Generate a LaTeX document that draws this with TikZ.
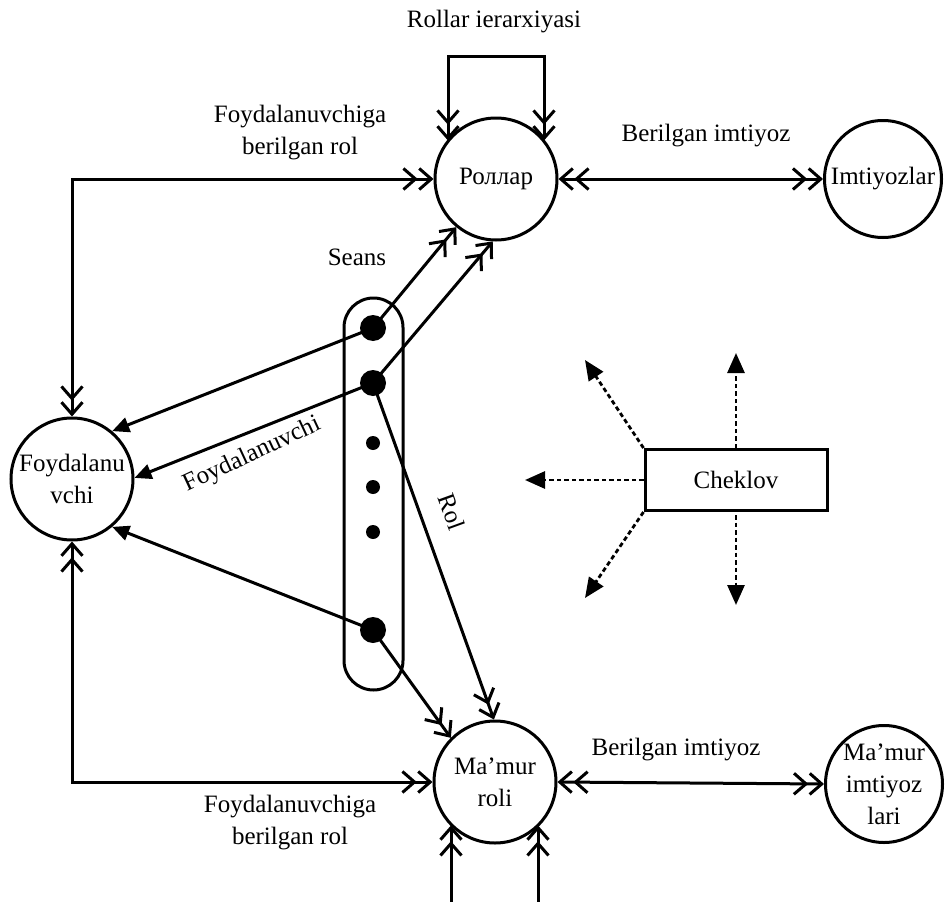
\documentclass[tikz,border=0pt]{standalone}
\usepackage{fontspec}
\setmainfont{Liberation Serif}
\usetikzlibrary{arrows.meta}
\tikzset{
  chev/.tip={Straight Barb[length=12pt,width=21pt]Straight Barb[length=12pt,width=21pt]},
  ftri/.tip={Triangle[length=17pt,width=15pt]},
  dtri/.tip={Triangle[length=20pt,width=17pt]},
}
\begin{document}
\begin{tikzpicture}[x=1pt,y=-1pt,
  every node/.style={font=\fontsize{25}{32}\selectfont},
  lw/.style={line width=3pt},
  bigc/.style={circle,draw,lw,minimum size=122pt,inner sep=0pt,align=center},
  smallc/.style={circle,draw,lw,minimum size=117pt,inner sep=0pt,align=center},
  dd/.style={lw,chev-chev},
  toin/.style={lw,-chev},
  fa/.style={lw,-ftri},
  da/.style={line width=2.8pt,dash pattern=on 4.5pt off 3pt,-dtri},
  bigdot/.style={circle,fill=black,minimum size=26pt,inner sep=0pt},
  smalldot/.style={circle,fill=black,minimum size=14pt,inner sep=0pt},
  lbl/.style={align=center,inner sep=0pt}
]
\useasboundingbox (0,0) rectangle (946,902);

% main nodes
\node[bigc] (R) at (496,179) {Роллар};
\node[smallc] (I) at (883,179) {Imtiyozlar};
\node[bigc] (F) at (72,479) {Foydalanu\\vchi};
\node[bigc] (M) at (495,782) {Ma’mur\\roli};
\node[smallc] (MI) at (884,784) {Ma’mur\\imtiyoz\\lari};

% Seans capsule and dots
\node[draw,lw,rectangle,rounded corners=29.5pt,minimum width=59pt,minimum height=392pt,inner sep=0pt] (S) at (373.5,494) {};
\node[bigdot] (d1) at (373,328) {};
\node[bigdot] (d2) at (373,383) {};
\node[smalldot] (d3) at (373,443) {};
\node[smalldot] (d4) at (373,487) {};
\node[smalldot] (d5) at (373,532) {};
\node[bigdot] (d6) at (373,630) {};

% Cheklov
\node[draw,lw,rectangle,minimum width=182pt,minimum height=61pt,inner sep=0pt] (C) at (736,480) {Cheklov};

% labels
\node[lbl] (l1) at (494,22) {Rollar ierarxiyasi};
\node[lbl] (l2) at (300,133) {Foydalanuvchiga\\berilgan rol};
\node[lbl] (l3) at (706,136) {Berilgan imtiyoz};
\node[lbl] (l4) at (357,257) {Seans};
\node[lbl,rotate=25] (l5) at (252,455) {Foydalanuvchi};
\node[lbl,rotate=-70] (l6) at (452,512) {Rol};
\node[lbl] (l7) at (290,823) {Foydalanuvchiga\\berilgan rol};
\node[lbl] (l8) at (676,750) {Berilgan imtiyoz};

% top hierarchy loop
\coordinate (t1) at (448,56);
\coordinate (t2) at (544,56);
\draw[dd] (t1 |- R.142) -- (t1) -- (t2) -- (t2 |- R.38);

% bottom loop lines (cropped)
\coordinate (b1) at (451,902);
\coordinate (b2) at (538,902);
\draw[toin] (b1) -- (b1 |- M.224);
\draw[toin] (b2) -- (b2 |- M.316);

% role assignment paths
\draw[dd] (R.west) -| (F.north);
\draw[dd] (F.south) |- (M.west);

% privilege assignments
\draw[dd] (R.east) -- (I.west);
\draw[dd] (M.east) -- (MI.west);

% session links
\draw[toin] (d1.center) -- (R);
\draw[toin] (d2.center) -- (R.267);
\draw[fa] (d1.center) -- (F.50);
\draw[fa] (d2.center) -- (F.1);
\draw[fa] (d6.center) -- (F.-50);
\draw[toin] (d2.center) -- (M.91);
\draw[toin] (d6.center) -- (M.135);

% constraint arrows
\coordinate (c1) at (736,353);
\coordinate (c2) at (736,605);
\coordinate (c3) at (525,480);
\coordinate (c4) at (585,360);
\coordinate (c5) at (585,598);
\coordinate (c2s) at (736,515);
\draw[da] (C.north) -- (c1);
\draw[da] (c2s) -- (c2);
\draw[da] (C.west) -- (c3);
\draw[da] (C.north west) -- (c4);
\draw[da] (C.south west) -- (c5);
\end{tikzpicture}
\end{document}
